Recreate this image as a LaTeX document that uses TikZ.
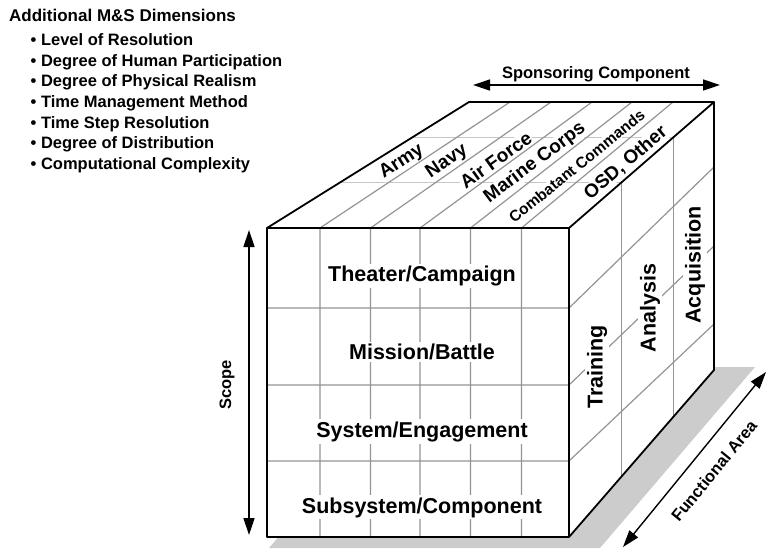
\documentclass[tikz,border=0pt]{standalone}
\usepackage{fontspec}
\setmainfont{Liberation Sans}
\usetikzlibrary{calc}
\usetikzlibrary{arrows.meta}

\begin{document}
\begin{tikzpicture}[x=1pt, y=-1pt,
  edge/.style={line width=1.8pt, line join=round},
  grid/.style={black!42, line width=1.2pt},
  faint/.style={black!22, line width=1.2pt},
  face/.style={font=\bfseries\fontsize{21.5}{24}\selectfont, fill=white, inner sep=2pt},
  topface/.style={font=\bfseries\fontsize{19}{21}\selectfont, fill=white, inner sep=0.5pt},
  axis/.style={font=\bfseries\fontsize{16.5}{20}\selectfont},
  dim/.style={line width=1.4pt, {Triangle[length=17pt,width=11pt]}-{Triangle[length=17pt,width=11pt]}},
  dims/.style={font=\bfseries\fontsize{16.5}{20}\selectfont, anchor=base west, inner sep=0pt}]

\useasboundingbox (0,0) rectangle (767,550);

% cube corners
\coordinate (FTL) at (267,228);
\coordinate (FTR) at (569,228);
\coordinate (FBL) at (267,537);
\coordinate (FBR) at (569,537);
\coordinate (BTL) at (469,102);
\coordinate (BTR) at (714,102);
\coordinate (BBR) at (714,370);

% shadow
\fill[black!20] (269,548) -- (600,548) -- (755,367) -- (424,367) -- cycle;

% faces
\fill[white] (FTL) -- (BTL) -- (BTR) -- (BBR) -- (FBR) -- (FBL) -- cycle;

% functional area divisions
\foreach \t in {0.36,0.72}
  \draw[faint] ($(FTL)!\t!(BTL)$) -- ($(FTR)!\t!(BTR)$);
\foreach \t in {0.36,0.72}
  \draw[grid] ($(FTR)!\t!(BTR)$) -- ($(FBR)!\t!(BBR)$);

% sponsor columns
\foreach \xf/\xb in {320/510,370.5/551,420/592,470.5/632,521.5/673}
  \draw[grid] (\xb,102) -- (\xf,228) -- (\xf,537);

% scope rows
\foreach \yf/\yb in {308/167,385/246,461/324}
  \draw[grid] (267,\yf) -- (569,\yf) -- (714,\yb);

% front face
\node[face, anchor=base] (theater) at (422,281.5) {Theater/Campaign};
\node[face, anchor=base] (mission) at (422,359.4) {Mission/Battle};
\node[face, anchor=base] (system) at (422,437) {System/Engagement};
\node[face, anchor=base] (subsystem) at (422,513) {Subsystem/Component};

% right face
\node[face, rotate=90] (training) at (597,367) {Training};
\node[face, rotate=90] (analysis) at (650,308) {Analysis};
\node[face, rotate=90] (acquisition) at (695,265) {Acquisition};

% top face
\node[topface, rotate=33] (army) at (401.7,161.7) {Army};
\node[topface, rotate=34] (navy) at (447,161.7) {Navy};
\node[topface, rotate=35.6] (airforce) at (495.7,160) {Air Force};
\node[topface, rotate=37] (marines) at (535,163) {Marine Corps};
\node[topface, rotate=39, font=\bfseries\fontsize{15.5}{17}\selectfont] (combatant) at (576.7,166) {Combatant Commands};
\node[topface, rotate=40.5] (osd) at (625.7,163) {OSD, Other};

% edges
\draw[edge] (FTL) rectangle (FBR);
\draw[edge] (FTL) -- (BTL) -- (BTR) -- (FTR);
\draw[edge] (BTR) -- (BBR) -- (FBR);

% axes
\coordinate (sponsorL) at (473,85);
\coordinate (sponsorR) at (720,85);
\draw[dim] (sponsorL) -- (sponsorR);
\node[axis] (sponsor) at (596,74) {Sponsoring Component};

\coordinate (scopeT) at (249,230);
\coordinate (scopeB) at (249,535);
\draw[dim] (scopeT) -- (scopeB);
\node[axis, rotate=90] (scope) at (227,385) {Scope};

\coordinate (areaB) at (623,547);
\coordinate (areaT) at (766,372);
\draw[dim] (areaB) -- (areaT);
\node[axis, rotate=50.7] (area) at (714,470.7) {Functional Area};

% other dimensions
\node[dims, font=\bfseries\fontsize{17}{20}\selectfont] (dimhead) at (9,21.6) {Additional M\&S Dimensions};
\foreach \dimtext [count=\i] in {Level of Resolution, Degree of Human Participation,
    Degree of Physical Realism, Time Management Method, Time Step Resolution,
    Degree of Distribution, Computational Complexity}
  \node[dims] (dim\i) at (30.5,{45.6+20.6*(\i-1)}) {\textbullet\ \dimtext};

\end{tikzpicture}
\end{document}
